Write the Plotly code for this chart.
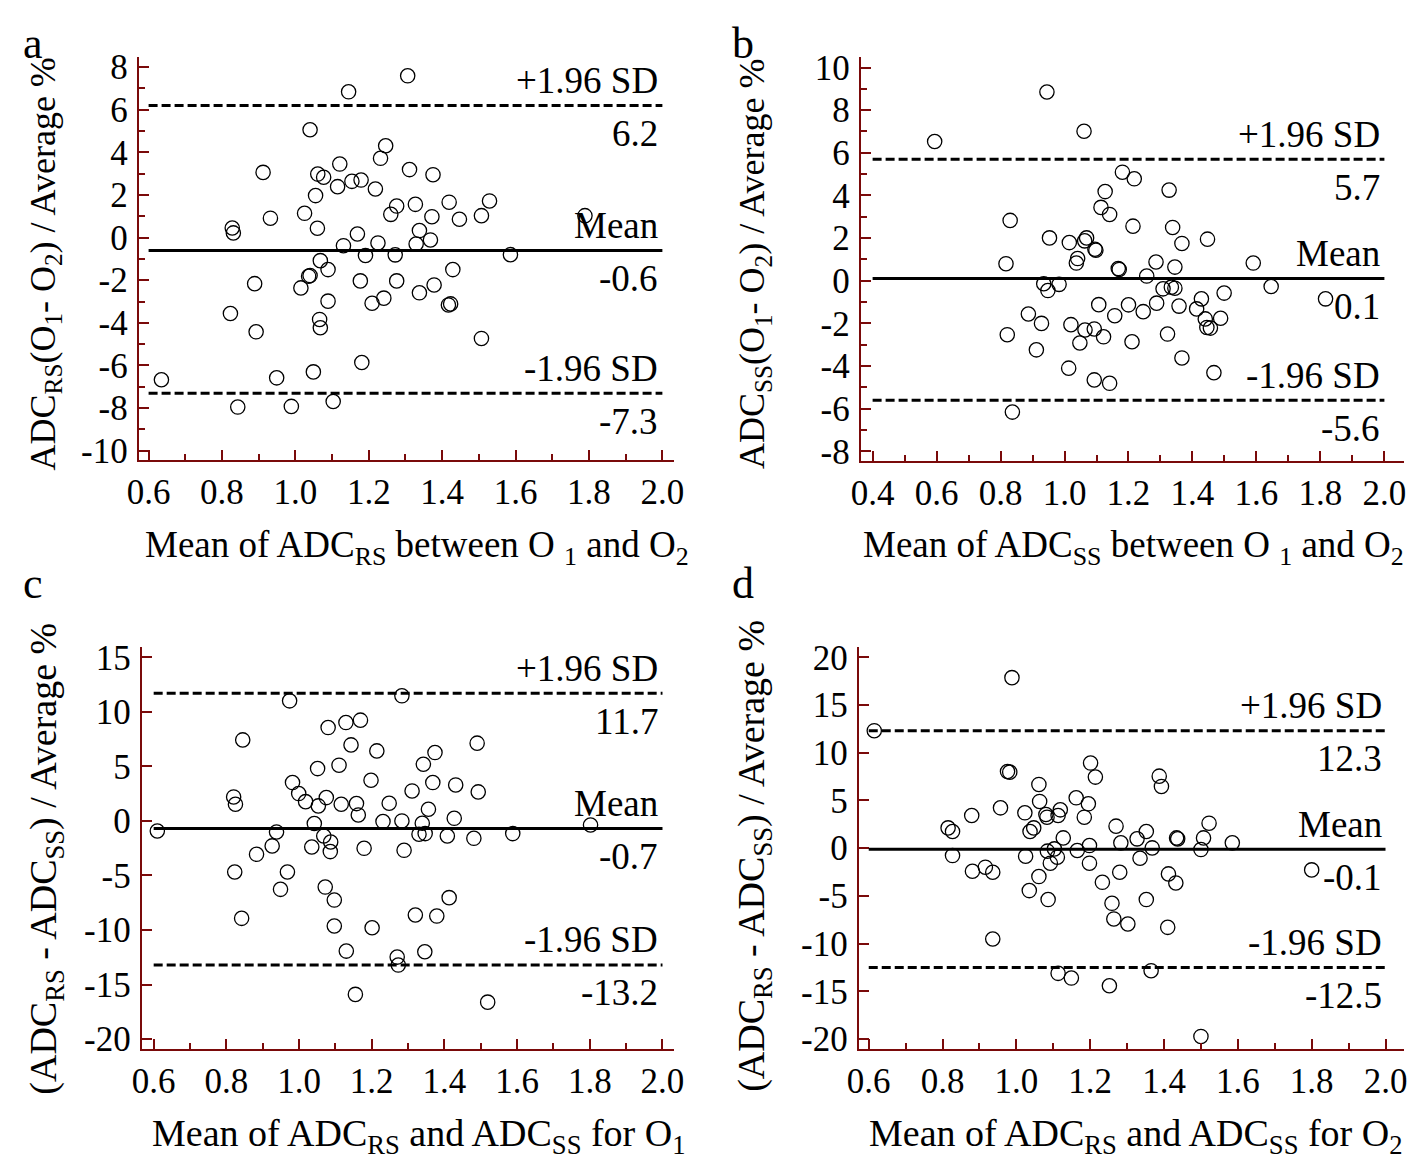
import plotly.graph_objects as go

# ---------------- data ----------------
a_x = [1.306,1.145,1.040,1.246,1.232,1.121,0.912,1.061,1.077,1.154,1.179,1.115,1.218,1.311,1.375,1.055,1.025,0.932,1.276,1.260,1.327,1.372,1.419,1.447,1.507,1.529,1.789,0.828,0.831,1.060,1.338,1.368,1.169,1.131,1.225,1.329,1.191,1.272,1.586,1.068,1.089,1.429,1.036,1.040,0.889,1.015,1.177,1.276,1.378,1.338,1.241,1.209,1.089,1.417,1.423,0.823,1.066,1.068,0.893,1.507,1.181,1.049,0.949,0.635,0.843,0.989,1.103]
a_y = [7.59,6.84,5.06,4.31,3.72,3.45,3.06,2.98,2.83,2.64,2.70,2.39,2.28,3.19,2.95,1.97,1.14,0.91,1.48,1.09,1.56,0.98,1.66,0.86,1.03,1.72,1.03,0.45,0.22,0.44,0.33,-0.11,0.17,-0.38,-0.25,-0.30,-0.84,-0.81,-0.80,-1.08,-1.50,-1.50,-1.81,-1.78,-2.16,-2.36,-2.03,-2.03,-2.22,-2.59,-2.84,-3.08,-2.98,-3.16,-3.11,-3.56,-3.84,-4.23,-4.42,-4.73,-5.86,-6.30,-6.58,-6.67,-7.95,-7.92,-7.69]

b_x = [0.945,0.594,1.061,1.181,1.218,1.327,1.127,1.114,1.141,0.830,1.214,1.338,0.953,1.015,1.069,1.063,1.095,1.098,1.367,1.447,1.041,1.037,0.817,1.168,1.171,1.286,1.345,1.590,1.257,0.935,0.948,0.983,1.308,1.334,1.345,1.646,1.499,1.428,1.816,1.107,1.200,1.288,1.358,1.246,1.157,1.413,1.440,1.488,0.887,0.928,1.445,1.456,1.020,1.064,1.093,1.122,1.048,1.211,1.322,0.821,0.912,1.367,1.013,1.467,1.093,1.141,0.837]
b_y = [8.85,6.53,7.01,5.09,4.78,4.25,4.18,3.44,3.11,2.83,2.56,2.50,2.01,1.79,2.01,1.87,1.48,1.43,1.75,1.95,1.04,0.83,0.80,0.57,0.53,0.88,0.64,0.83,0.22,-0.14,-0.46,-0.17,-0.38,-0.30,-0.35,-0.27,-0.58,-0.85,-0.85,-1.12,-1.13,-1.05,-1.19,-1.45,-1.64,-1.32,-1.79,-1.76,-1.56,-2.00,-2.19,-2.22,-2.06,-2.31,-2.26,-2.63,-2.92,-2.86,-2.50,-2.53,-3.24,-3.62,-4.10,-4.31,-4.65,-4.81,-6.16]

c_x = [0.610,0.974,1.283,1.080,1.129,1.169,0.845,1.143,1.214,1.490,1.374,1.342,1.110,1.051,1.198,1.368,1.431,1.311,1.493,0.982,0.999,1.018,0.820,0.825,1.075,1.053,1.116,1.158,1.163,1.248,1.356,1.427,1.231,1.283,1.339,1.042,1.802,0.938,1.068,1.330,1.347,1.408,1.481,1.588,1.087,1.086,1.035,0.926,0.883,1.179,1.289,0.823,0.968,0.949,1.072,1.097,1.413,0.842,1.097,1.201,1.320,1.379,1.130,1.270,1.273,1.346,1.155,1.519]
c_y = [-0.92,11.01,11.47,8.56,9.02,9.24,7.43,6.97,6.42,7.13,6.27,5.20,5.11,4.80,3.73,3.52,3.30,2.75,2.66,3.52,2.51,1.77,2.20,1.53,2.14,1.38,1.53,1.59,0.55,1.62,1.07,0.24,-0.06,0.00,-0.21,-0.24,-0.37,-1.01,-1.38,-1.22,-1.16,-1.38,-1.59,-1.16,-1.93,-2.81,-2.39,-2.29,-3.06,-2.51,-2.69,-4.68,-4.68,-6.27,-6.06,-7.25,-7.03,-8.93,-9.63,-9.79,-8.62,-8.72,-11.93,-12.48,-13.21,-11.99,-15.90,-16.61]

d_x = [0.615,0.988,0.976,0.982,1.201,1.214,1.387,1.393,1.061,1.063,1.162,1.195,1.184,0.957,0.879,1.023,1.080,1.083,1.113,1.119,0.815,0.827,1.047,1.037,1.127,1.270,1.352,1.327,1.283,1.434,1.437,1.507,1.522,1.585,1.198,1.103,1.084,1.165,1.368,1.500,0.827,1.025,1.111,1.092,1.198,1.335,0.881,0.916,0.936,1.280,1.412,1.432,1.061,1.800,1.233,1.035,1.086,1.259,1.352,1.264,1.302,1.410,0.936,1.113,1.149,1.365,1.252,1.500]
d_y = [12.31,17.87,8.04,7.97,8.92,7.45,7.55,6.47,6.68,4.90,5.28,4.65,3.25,4.23,3.43,3.71,3.53,3.25,3.43,4.02,2.13,1.75,2.13,1.75,1.08,2.31,1.75,0.98,0.56,1.08,0.98,1.08,2.62,0.56,0.28,-0.07,-0.31,-0.24,0.03,-0.14,-0.77,-0.84,-0.94,-1.57,-1.57,-1.05,-2.41,-1.99,-2.52,-2.52,-2.69,-3.64,-2.97,-2.27,-3.57,-4.44,-5.38,-5.77,-5.38,-7.41,-7.94,-8.29,-9.51,-13.11,-13.60,-12.83,-14.41,-19.72]

# limits of agreement: upper (+1.96 SD), mean, lower (-1.96 SD)
a_stats = [6.2, -0.6, -7.3]
b_stats = [5.7, 0.1, -5.6]
c_stats = [11.7, -0.7, -13.2]
d_stats = [12.3, -0.1, -12.5]
stat_labels = ["+1.96 SD", "Mean", "-1.96 SD"]
stat_text_a = ["6.2", "-0.6", "-7.3"]
stat_text_b = ["5.7", "0.1", "-5.6"]
stat_text_c = ["11.7", "-0.7", "-13.2"]
stat_text_d = ["12.3", "-0.1", "-12.5"]

# tick labels
xt_ab = [0.6, 0.8, 1.0, 1.2, 1.4, 1.6, 1.8, 2.0]
xt_b = [0.4, 0.6, 0.8, 1.0, 1.2, 1.4, 1.6, 1.8, 2.0]
yt_a = [8, 6, 4, 2, 0, -2, -4, -6, -8, -10]
yt_b = [10, 8, 6, 4, 2, 0, -2, -4, -6, -8]
yt_c = [15, 10, 5, 0, -5, -10, -15, -20]
yt_d = [20, 15, 10, 5, 0, -5, -10, -15, -20]

x_titles = [
    "Mean of ADC<sub>RS</sub> between O <sub>1</sub> and O<sub>2</sub>",
    "Mean of ADC<sub>SS</sub> between O <sub>1</sub> and O<sub>2</sub>",
    "Mean of ADC<sub>RS</sub> and ADC<sub>SS</sub> for O<sub>1</sub>",
    "Mean of ADC<sub>RS</sub> and ADC<sub>SS</sub> for O<sub>2</sub>",
]
y_titles = [
    "ADC<sub>RS</sub>(O<sub>1</sub>- O<sub>2</sub>) / Average %",
    "ADC<sub>SS</sub>(O<sub>1</sub>- O<sub>2</sub>) / Average %",
    "(ADC<sub>RS</sub> - ADC<sub>SS</sub>) / Average %",
    "(ADC<sub>RS</sub> - ADC<sub>SS</sub>) / Average %",
]
panel_letters = ["a", "b", "c", "d"]

# ---------------- layout geometry ----------------
# target positions are given in picture pixels; the page shows the figure
# offset and slightly scaled, so convert target pixels to figure pixels.
OX, OY, SX, SY = 18.5, 17.5, 0.983, 0.984
W, H = 1418, 1163
FONT = "Liberation Serif"
AXC = "#7a0a0a"

def fx(t):
    return (t - OX) / SX

def fy(t):
    return (t - OY) / SY

def px_x(t):
    return fx(t) / W

def px_y(t):
    return 1 - fy(t) / H

panels = [
    dict(xs=a_x, ys=a_y, stats=a_stats, st=stat_text_a, xt=xt_ab, yt=yt_a, ydt=1,
         xr=[0.573, 2.033], yr=[-10.45, 8.45], dom_x=[137, 672], dom_y=[58, 461]),
    dict(xs=b_x, ys=b_y, stats=b_stats, st=stat_text_b, xt=xt_b, yt=yt_b, ydt=1,
         xr=[0.363, 2.06], yr=[-8.47, 10.47], dom_x=[858, 1400], dom_y=[58, 462]),
    dict(xs=c_x, ys=c_y, stats=c_stats, st=stat_text_c, xt=xt_ab, yt=yt_c, ydt=None,
         xr=[0.567, 2.033], yr=[-20.92, 15.92], dom_x=[140, 672], dom_y=[648, 1050]),
    dict(xs=d_x, ys=d_y, stats=d_stats, st=stat_text_d, xt=xt_ab, yt=yt_d, ydt=None,
         xr=[0.573, 2.049], yr=[-21.05, 21.05], dom_x=[856, 1400], dom_y=[648, 1050]),
]
x_title_pos = [(415, 548), (1130, 548), (417, 1137), (1133, 1137)]
x_title_size = [37, 37, 38, 38]
# (x, y, xanchor) for rotated y titles
y_title_pos = [(OX + 0.5, 265, "left"), (752, 265, "center"),
               (OX + 0.5, 860, "left"), (752, 857, "center")]
y_title_size = [36, 36, 38, 38]
# (x, y) top-left anchored panel letters
letter_pos = [(OX + 0.5, OY + 0.5), (727, OY + 0.5), (OX + 0.5, 558), (727, 558)]

fig = go.Figure()
annotations = []
shapes = []

for i, p in enumerate(panels):
    sfx = "" if i == 0 else str(i + 1)
    xa, ya = "x" + sfx, "y" + sfx
    fig.add_trace(go.Scatter(
        x=p["xs"], y=p["ys"], mode="markers", xaxis=xa, yaxis=ya,
        marker=dict(symbol="circle-open", size=14.3, color="black", line=dict(width=1.3)),
        showlegend=False, hoverinfo="x+y"))

    x_first, x_last = p["xt"][0], p["xt"][-1]
    for k, val in enumerate(p["stats"]):
        shapes.append(dict(type="line", xref=xa, yref=ya, x0=x_first, x1=x_last,
                           y0=val, y1=val,
                           line=dict(color="black", width=3,
                                     dash="solid" if k == 1 else "9px,4px")))
        annotations.append(dict(xref=xa, yref=ya, x=x_last, y=val, text=stat_labels[k],
                                showarrow=False, xanchor="right", yanchor="middle",
                                xshift=-2, yshift=25,
                                font=dict(family=FONT, size=37, color="black")))
        annotations.append(dict(xref=xa, yref=ya, x=x_last, y=val, text=p["st"][k],
                                showarrow=False, xanchor="right", yanchor="middle",
                                xshift=-2, yshift=-28,
                                font=dict(family=FONT, size=37, color="black")))

    xminor = [round(v / 10, 1) for v in range(int(round(x_first * 10)), int(round(x_last * 10)) + 1)]
    axis_common = dict(showline=True, linecolor=AXC, linewidth=2, showgrid=False,
                       zeroline=False, ticks="inside", tickcolor=AXC, tickwidth=2,
                       ticklen=10, tickfont=dict(family=FONT, size=35, color="black"))
    fig.layout["xaxis" + sfx] = dict(
        axis_common, domain=[px_x(p["dom_x"][0]), px_x(p["dom_x"][1])],
        range=p["xr"], anchor=ya, tickmode="array", tickvals=p["xt"],
        ticktext=["%.1f" % v for v in p["xt"]], ticklabelstandoff=0,
        minor=dict(ticks="inside", ticklen=6, tickcolor=AXC, tickwidth=2,
                   tickmode="array", tickvals=xminor))
    yax = dict(
        axis_common, domain=[px_y(p["dom_y"][1]), px_y(p["dom_y"][0])],
        range=p["yr"], anchor=xa, tickmode="array", tickvals=p["yt"],
        ticktext=[str(v) for v in p["yt"]], ticklabelstandoff=2)
    if p["ydt"]:
        yax["minor"] = dict(ticks="inside", ticklen=6, tickcolor=AXC, tickwidth=2,
                            tickmode="array",
                            tickvals=list(range(min(p["yt"]), max(p["yt"]) + 1)))
    fig.layout["yaxis" + sfx] = yax

    tx, ty = x_title_pos[i]
    annotations.append(dict(xref="paper", yref="paper", x=px_x(tx), y=px_y(ty),
                            text=x_titles[i], showarrow=False, xanchor="center",
                            yanchor="middle",
                            font=dict(family=FONT, size=x_title_size[i], color="black")))
    tx, ty, anc = y_title_pos[i]
    annotations.append(dict(xref="paper", yref="paper", x=px_x(tx), y=px_y(ty),
                            text=y_titles[i], showarrow=False, textangle=-90,
                            xanchor=anc, yanchor="middle",
                            font=dict(family=FONT, size=y_title_size[i], color="black")))
    lx, ly = letter_pos[i]
    annotations.append(dict(xref="paper", yref="paper", x=px_x(lx), y=px_y(ly),
                            text=panel_letters[i], showarrow=False, xanchor="left",
                            yanchor="top", font=dict(family=FONT, size=44, color="black")))

fig.update_layout(width=W, height=H, margin=dict(l=0, r=0, t=0, b=0),
                  paper_bgcolor="white", plot_bgcolor="white",
                  annotations=annotations, shapes=shapes, showlegend=False)

fig.write_html("out.html")
